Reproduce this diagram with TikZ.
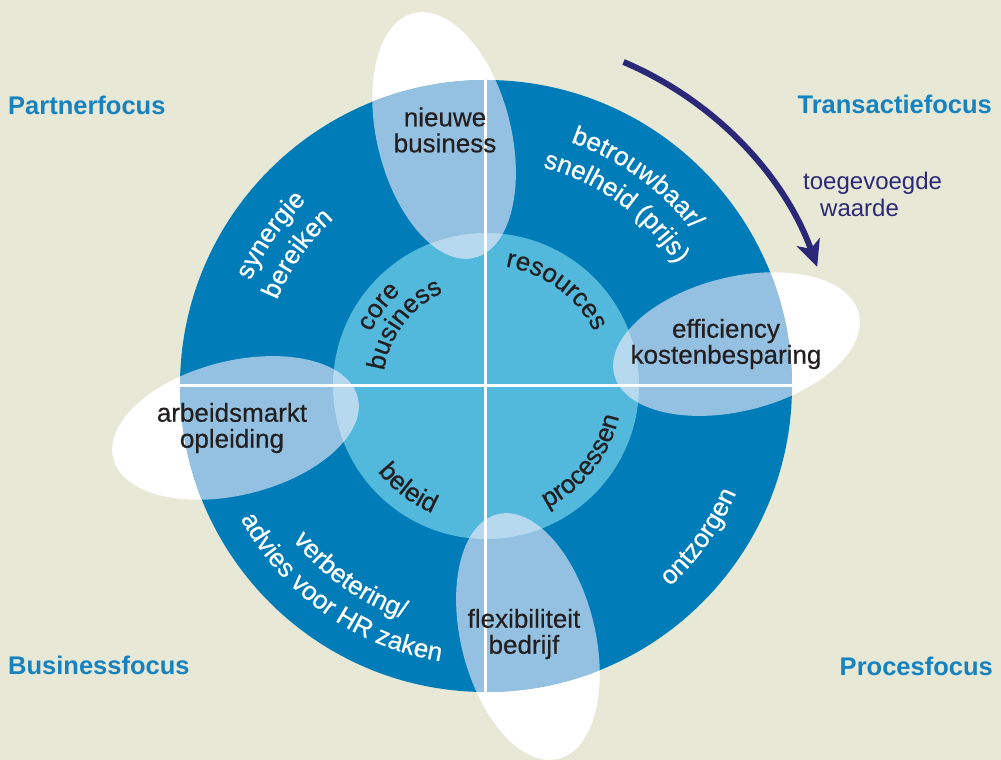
\documentclass[tikz,border=0pt]{standalone}
\usepackage{fontspec}
\setmainfont{Liberation Sans}
\newfontfamily\medfont{Liberation Sans}[FakeBold=0.5]
\usetikzlibrary{arrows.meta,decorations.text}

\definecolor{bgbeige}{RGB}{232,232,214}
\definecolor{ringblue}{RGB}{0,125,184}
\definecolor{coreblue}{RGB}{82,184,220}
\definecolor{spotwhite}{RGB}{255,242,255}
\definecolor{focusblue}{RGB}{22,130,192}
\definecolor{navy}{RGB}{43,40,120}
\definecolor{darktext}{RGB}{35,31,32}

\newcommand\ringfont{\medfont\fontsize{26}{26}\selectfont}

\begin{document}
\begin{tikzpicture}[x=1pt,y=1pt,
  focus/.style={text=focusblue,font=\fontsize{25.5}{26}\selectfont\bfseries,inner sep=0pt},
  ovtext/.style={text=darktext,font=\ringfont,align=center,inner sep=0pt},
  whitearc/.style={decorate,decoration={text along path,text align=center,text color=white,text={|\ringfont|#1}}},
  darkarc/.style={decorate,decoration={text along path,text align=center,text color=darktext,text={|\ringfont|#1}}},
  spot/.style={spotwhite,fill opacity=.58}]

\path[use as bounding box,fill=bgbeige] (-486,-374) rectangle (515,386);

% ellipses under the circle
\foreach \a in {0,90,180,270}
  \fill[white,shift={(\a+9.5:254)},rotate=\a+14] (0,0) ellipse[x radius=126,y radius=67];

\fill[ringblue] (0,0) circle[radius=306];
\fill[coreblue] (0,0) circle[radius=153];

% ellipses over the circle
\begin{scope}
  \clip (0,0) circle[radius=306];
  \foreach \a in {0,90,180,270}
    \fill[spot,shift={(\a+9.5:254)},rotate=\a+14] (0,0) ellipse[x radius=126,y radius=67];
\end{scope}

\draw[white,line width=3pt] (0,306) -- (0,-306);
\draw[white,line width=3pt] (-306,0) -- (306,0);

% outer ring
\path[whitearc=synergie] (205:258) arc[start angle=205,end angle=85,radius=258];
\path[whitearc=bereiken] (205:226) arc[start angle=205,end angle=85,radius=226];
\path[whitearc=betrouwbaar/] (114:258) arc[start angle=114,end angle=-6,radius=258];
\path[whitearc=snelheid (prijs)] (114:226) arc[start angle=114,end angle=-6,radius=226];
\path[whitearc=verbetering/] (174.5:247) arc[start angle=174.5,end angle=294.5,radius=247];
\path[whitearc=advies voor HR zaken] (174.5:279) arc[start angle=174.5,end angle=294.5,radius=279];
\path[whitearc=ontzorgen] (264.7:272) arc[start angle=264.7,end angle=384.7,radius=272];

% inner circle
\path[darkarc=core] (203.5:127) arc[start angle=203.5,end angle=83.5,radius=127];
\path[darkarc=business] (203:103) arc[start angle=203,end angle=83,radius=103];
\path[darkarc=resources] (113.7:121) arc[start angle=113.7,end angle=-6.3,radius=121];
\path[darkarc=beleid] (172.7:138) arc[start angle=172.7,end angle=292.7,radius=138];
\path[darkarc=processen] (261.8:136.5) arc[start angle=261.8,end angle=381.8,radius=136.5];

\node[ovtext] (NB) at (-41,256) {nieuwe\\business};
\node[ovtext] (EK) at (240,42) {efficiency\\kostenbesparing};
\node[ovtext] (AO) at (-254,-42) {arbeidsmarkt\\opleiding};
\node[ovtext] (FB) at (38,-248) {flexibiliteit\\bedrijf};

\node[focus,anchor=base west] (PF) at (-478,271) {Partnerfocus};
\node[focus,anchor=base east] (TF) at (506,272) {Transactiefocus};
\node[focus,anchor=base west] (BF) at (-478,-288) {Businessfocus};
\node[focus,anchor=base east] (PrF) at (507,-289) {Procesfocus};

\coordinate (W0) at (67:352);
\draw[navy,line width=6pt,-{Stealth[length=26pt,width=24pt,inset=7pt]}]
  (W0) arc[start angle=67,end angle=19.8,radius=352];
\node[text=navy,font=\fontsize{24}{27}\selectfont,align=left,inner sep=0pt,anchor=west]
  (TW) at (317,192) {toegevoegde\\\hspace*{17pt}waarde};

\end{tikzpicture}
\end{document}
